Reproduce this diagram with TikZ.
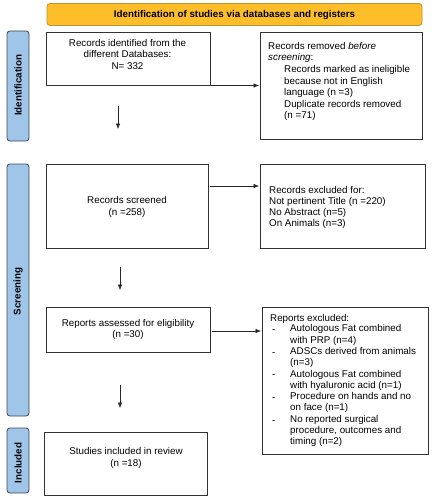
\documentclass[tikz,border=0pt]{standalone}
\usepackage{fontspec}
\setmainfont{Liberation Sans}
\usetikzlibrary{arrows.meta}
\definecolor{bannerfill}{HTML}{FDBE2A}
\definecolor{bannerdraw}{HTML}{B8952E}
\definecolor{sidefill}{HTML}{9FC5E8}
\definecolor{sidedraw}{HTML}{404855}
\begin{document}
\begin{tikzpicture}[x=1pt,y=-1pt,
  txt/.style={font=\fontsize{9.8}{11.3}\selectfont, inner sep=0pt, align=left, anchor=north west, execute at begin node={\rule{0pt}{8pt}}},
  ctxt/.style={font=\fontsize{9.8}{11.3}\selectfont, inner sep=0pt, align=center, anchor=north, execute at begin node={\rule{0pt}{8pt}}},
  boxstyle/.style={draw=black!80, line width=0.6pt},
  sidebar/.style={draw=sidedraw, fill=sidefill, line width=0.8pt, rounded corners=3pt},
  sidelabel/.style={font=\bfseries\fontsize{9.8}{11}\selectfont, rotate=90, inner sep=0pt},
  arr/.style={-{Latex[length=5.5pt,width=4.5pt]}, line width=0.5pt, black!85}
]
\useasboundingbox (0,0) rectangle (434,500);
% banner
\node[draw=bannerdraw, fill=bannerfill, line width=0.8pt, rounded corners=3pt,
  minimum width=375pt, minimum height=22pt, inner sep=0pt,
  font=\bfseries\fontsize{9.8}{11}\selectfont] (banner) at (234.5,14.5)
  {Identification of studies via databases and registers};
% side bars
\draw[sidebar] (7,31) rectangle (29,141);
\node[sidelabel] (lid) at (18,85.5) {Identification};
\draw[sidebar] (7,164) rectangle (29,416);
\node[sidelabel] (lsc) at (18,291.5) {Screening};
\draw[sidebar] (7,428) rectangle (29,493);
\node[sidelabel] (lin) at (18,463) {Included};
% left boxes (y = first baseline - 8)
\draw[boxstyle] (46,32) rectangle (210,85);
\node[ctxt] (t1) at (127.5,39.2) {Records identified from the\\different Databases:\\N= 332};
\draw[boxstyle] (46,164) rectangle (208,248);
\node[ctxt] (t2) at (127,196.5) {Records screened\\(n =258)};
\draw[boxstyle] (46,307) rectangle (210,352);
\node[ctxt] (t3) at (128,318.8) {Reports assessed for eligibility\\(n =30)};
\draw[boxstyle] (44,432) rectangle (207,495);
\node[ctxt] (t4) at (126,447.5) {Studies included in review\\(n =18)};
% right boxes
\draw[boxstyle] (260,32) rectangle (422,139);
\node[txt] (r1a) at (268,42.2) {Records removed \emph{before}\\\emph{screening}:};
\node[txt, font=\fontsize{9.8}{11.5}\selectfont] (r1b) at (284,65.2) {Records marked as ineligible\\because not in English\\language (n =3)\\Duplicate records removed\\(n =71)};
\draw[boxstyle] (260,164) rectangle (425,248);
\node[txt, font=\fontsize{9.8}{11}\selectfont] (r2) at (269,186.2) {Records excluded for:\\Not pertinent Title (n =220)\\No Abstract (n=5)\\On Animals (n=3)};
\draw[boxstyle] (262,307) rectangle (428,454);
\node[txt] (r3a) at (270,313.2) {Reports excluded:};
\node[txt] (d1) at (272,324.5) {-};
\node[txt] (r3b) at (290,324.5) {Autologous Fat combined\\with PRP (n=4)};
\node[txt] (d2) at (272,347.1) {-};
\node[txt] (r3c) at (290,347.1) {ADSCs derived from animals\\(n=3)};
\node[txt] (d3) at (272,369.7) {-};
\node[txt] (r3d) at (290,369.7) {Autologous Fat combined\\with hyaluronic acid (n=1)};
\node[txt] (d4) at (272,392.3) {-};
\node[txt] (r3e) at (290,392.3) {Procedure on hands and no\\on face (n=1)};
\node[txt] (d5) at (272,414.9) {-};
\node[txt] (r3f) at (290,414.9) {No reported surgical\\procedure, outcomes and\\timing (n=2)};
% connectors
\coordinate (a1s) at (210,85.5);
\coordinate (a1e) at (259,85.5);
\draw[arr] (a1s) -- (a1e);
\coordinate (a2s) at (210,186);
\coordinate (a2e) at (259,186);
\draw[arr] (a2s) -- (a2e);
\coordinate (a3s) at (212,331);
\coordinate (a3e) at (261,331);
\draw[arr] (a3s) -- (a3e);
\coordinate (v1s) at (118,106);
\coordinate (v1e) at (118,129);
\draw[arr] (v1s) -- (v1e);
\coordinate (v2s) at (120,267);
\coordinate (v2e) at (120,290);
\draw[arr] (v2s) -- (v2e);
\coordinate (v3s) at (120,385);
\coordinate (v3e) at (120,408);
\draw[arr] (v3s) -- (v3e);
\end{tikzpicture}
\end{document}
